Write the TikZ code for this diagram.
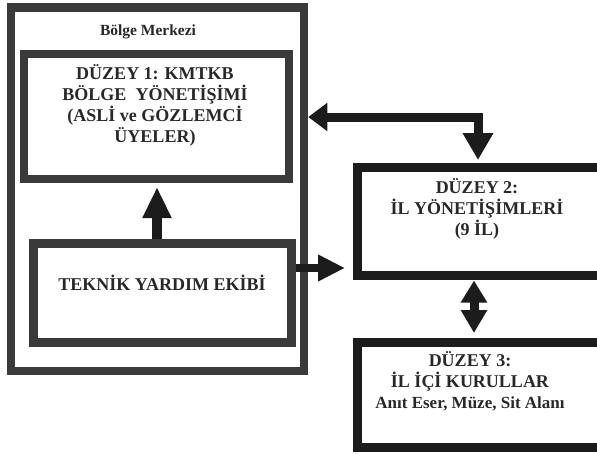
\documentclass[tikz,border=0pt]{standalone}
\usepackage{fontspec}
\setmainfont{Liberation Serif}
\usetikzlibrary{arrows.meta}
\definecolor{boxgray}{RGB}{58,58,58}
\definecolor{boxblack}{RGB}{28,28,28}
\definecolor{txt}{RGB}{40,40,40}
\begin{document}
\begin{tikzpicture}[x=1pt,y=-1pt,
  graybox/.style={draw=boxgray,rectangle,inner sep=0pt,fill=none},
  blackbox/.style={draw=boxblack,rectangle,inner sep=0pt,line width=9pt},
  lbl/.style={text=txt,font=\bfseries\fontsize{18}{21}\selectfont,align=center,inner sep=0pt},
  arr/.style={draw=boxblack,line width=9pt}
]
\useasboundingbox (0,0) rectangle (597,453);
\clip (0,0) rectangle (597,453);
% boxes
\node[graybox,line width=8.5pt,minimum width=293pt,minimum height=363.5pt] (outer) at (157.5,189.25) {};
\node[graybox,line width=8pt,minimum width=265pt,minimum height=125pt] (d1) at (156.5,116.5) {};
\node[graybox,line width=9pt,minimum width=258pt,minimum height=99pt] (tek) at (162,292.5) {};
\node[blackbox,minimum width=250pt,minimum height=107.5pt] (d2) at (482.5,221.25) {};
\node[blackbox,minimum width=250pt,minimum height=105pt] (d3) at (482.5,395) {};
% texts
\node[lbl,font=\bfseries\fontsize{15.5}{18}\selectfont] (bm) at (148,32) {Bölge Merkezi};
\node[lbl] (t1) at (155,105.5) {DÜZEY 1: KMTKB\\BÖLGE\ \ YÖNETİŞİMİ\\(ASLİ ve GÖZLEMCİ\\ÜYELER)};
\node[lbl] (t2) at (162,283) {TEKNİK YARDIM EKİBİ};
\node[lbl] (t3) at (477,208.5) {DÜZEY 2:\\İL YÖNETİŞİMLERİ\\(9 İL)};
\node[lbl] (t4) at (470,381.5) {DÜZEY 3:\\İL İÇİ KURULLAR\\{\fontsize{17}{21}\selectfont Anıt Eser, Müze, Sit Alanı}};
% connectors
\coordinate (j1) at (478,117);
\coordinate (j2) at (474,300);
\coordinate (j3) at (157,200);
\coordinate (j4) at (300,268);
\draw[arr,line width=10pt,-{Triangle[length=31pt,width=27pt]},shorten >=4pt] (j3 |- tek.north) -- (j3 |- d1.south);
\draw[arr,line width=8pt,-{Triangle[length=27pt,width=25pt]},shorten >=8pt] (tek.east |- j4) -- (d2.west |- j4);
\draw[arr,{Triangle[length=19pt,width=27pt]}-{Triangle[length=27pt,width=29pt]},shorten >=3pt] (outer.east |- j1) -- (j1) -- (j1 |- d2.north);
\draw[arr,{Triangle[length=22pt,width=25pt]}-{Triangle[length=23pt,width=25pt]},shorten <=1pt,shorten >=5pt] (j2 |- d2.south) -- (j2 |- d3.north);
\end{tikzpicture}
\end{document}
